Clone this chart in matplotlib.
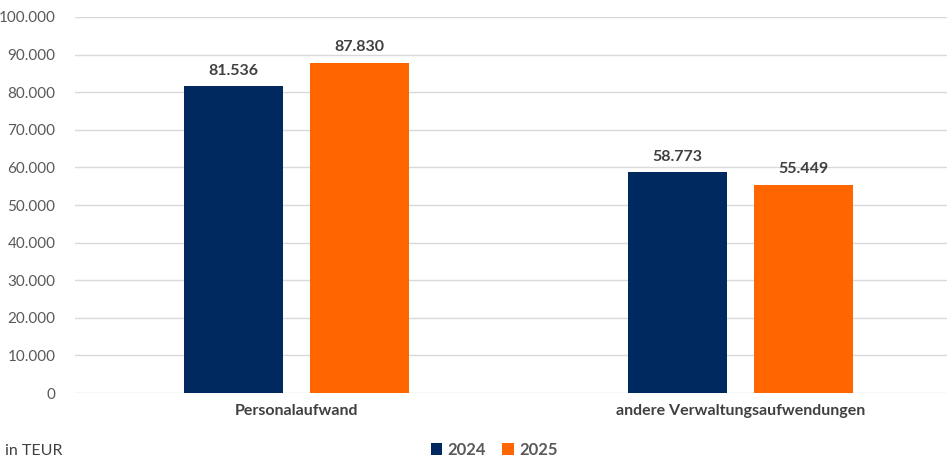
import matplotlib
matplotlib.use('Agg')
import matplotlib.pyplot as plt
import numpy as np

plt.rcParams['font.family'] = ['Lato', 'DejaVu Sans']

# data
categories = ['Personalaufwand', 'andere Verwaltungsaufwendungen']
years = ['2024', '2025']
values_2024 = [81536, 58773]
values_2025 = [87830, 55449]
colors = ['#002960', '#ff6600']

fig = plt.figure(figsize=(9.47, 4.61), dpi=100)
ax = fig.add_axes([75 / 947, 68 / 461, 872 / 947, 376 / 461])

x = np.arange(len(categories))
width = 0.223
offset = 0.142
for vals, yr, col, off in zip((values_2024, values_2025), years, colors, (-offset, offset)):
    bars = ax.bar(x + off, vals, width, color=col, label=yr, zorder=3)
    for b, v in zip(bars, vals):
        ax.text(b.get_x() + b.get_width() / 2, v + 2200, f'{v:,}'.replace(',', '.'),
                ha='center', va='bottom', fontsize=11.5, fontweight='bold', color='#404040')

ax.set_xlim(-0.499, 1.465)
ax.set_ylim(0, 100000)
ax.set_yticks(np.arange(0, 100001, 10000))
ax.set_yticklabels([f'{int(t):,}'.replace(',', '.') for t in np.arange(0, 100001, 10000)])
ax.yaxis.grid(True, color='#d9d9d9', linewidth=1, zorder=0)
ax.set_xticks(x)
ax.set_xticklabels(categories, fontsize=11.5, fontweight='bold', color='#404040')
ax.tick_params(axis='y', length=0, labelsize=11, labelcolor='#595959', pad=14)
ax.tick_params(axis='x', length=0, pad=8)
for s in ax.spines.values():
    s.set_visible(False)

fig.text(5 / 947, 1 - 451 / 461, 'in TEUR', fontsize=11.5, color='#404040', va='center', ha='left')
fig.legend(loc='center', bbox_to_anchor=(494 / 947, 1 - 450 / 461), ncol=2, frameon=False,
           handlelength=0.7, handleheight=0.7, handletextpad=0.3, columnspacing=1.0,
           prop={'size': 12, 'weight': 'bold'}, labelcolor='#595959')

fig.savefig('out.png', dpi=100)
